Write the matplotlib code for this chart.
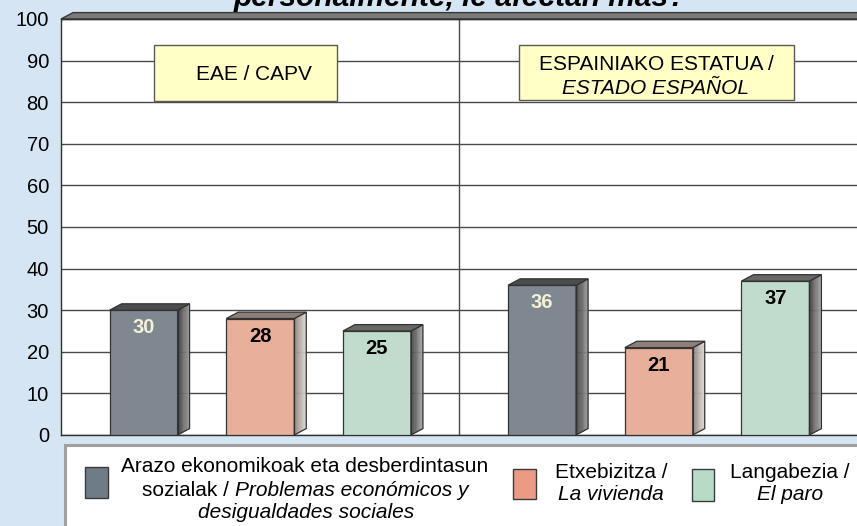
import matplotlib
matplotlib.use("Agg")
import matplotlib.pyplot as plt
import matplotlib.colors as mcolors
from matplotlib.patches import Polygon, Rectangle
import numpy as np

plt.rcParams["font.family"] = ["Liberation Sans", "DejaVu Sans"]

# --------------------- data ---------------------
groups = ["EAE / CAPV", "ESPAINIAKO ESTATUA / ESTADO ESPAÑOL"]
economicos = [30, 36]
vivienda = [28, 21]
paro = [25, 37]
yticks = list(range(0, 101, 10))

# --------------------- figure helpers ---------------------
W, H = 857, 526
fig = plt.figure(figsize=(W / 100, H / 100), dpi=100)
fig.patch.set_facecolor("#d5e5f3")


def fx(px):
    return px / W


def fy(py):
    return 1 - py / H


def pt(px):
    return px * 72 / 100


ax = fig.add_axes([fx(61), fy(435), (858 - 61) / W, (435 - 19) / H])
ax.set_facecolor("white")
ax.set_xlim(-0.5, len(groups) - 0.5)
ax.set_ylim(0, 100)
ax.set_yticks(yticks)
ax.set_xticks([])
ax.tick_params(axis="y", length=0, pad=pt(12), labelsize=14.5)
ax.yaxis.grid(True, color="#4a4a4a", lw=1.0)
ax.set_axisbelow(True)
ax.axvline(0.5, color="#4a4a4a", lw=1.0, zorder=1)
for s in ["left", "bottom", "top"]:
    ax.spines[s].set_color("#303030")
    ax.spines[s].set_linewidth(1.0)
ax.spines["right"].set_visible(False)

# 3D depth of the bars
dx = 12 / 398.5
dy = 6.4 / 4.16
bw = 0.1706
offsets = [-0.2928, 0.0, 0.2928]

series = [
    (economicos, "#7f8890", ("#3c3c3c", "#9a9a9a"), "#4c4c4c", "#f3f1d6"),
    (vivienda, "#e8b09b", ("#8a807b", "#e2dad4"), "#8c7f79", "black"),
    (paro, "#c1dccd", ("#3f3f3f", "#a8a8a8"), "#676767", "black"),
]


def blend(c0, c1, t):
    a = np.array(mcolors.to_rgb(c0))
    b = np.array(mcolors.to_rgb(c1))
    return tuple(a + (b - a) * t)


x = np.arange(len(groups))
for i, (vals, col, side, topc, lblc) in enumerate(series):
    xs = x + offsets[i]
    ax.bar(xs, vals, width=bw, color=col, edgecolor="#333333", lw=0.9, zorder=3)
    for xc, v in zip(xs, vals):
        x0 = xc - bw / 2
        x1 = xc + bw / 2
        n = 14
        for k in range(n):
            t0, t1 = k / n, (k + 1) / n
            c = blend(side[0], side[1], (k + 0.5) / n)
            ax.add_patch(Polygon([(x1 + dx * t0, dy * t0), (x1 + dx * t1, dy * t1),
                                  (x1 + dx * t1, v + dy * t1), (x1 + dx * t0, v + dy * t0)],
                                 closed=True, fc=c, ec=c, lw=0.3, zorder=2.9))
        ax.add_patch(Polygon([(x1, 0), (x1 + dx, dy), (x1 + dx, v + dy), (x1, v)],
                             closed=True, fill=False, ec="#333333", lw=0.9, zorder=3.1))
        ax.add_patch(Polygon([(x0, v), (x0 + dx, v + dy), (x1 + dx, v + dy), (x1, v)],
                             closed=True, fc=topc, ec="#333333", lw=0.9, zorder=3.1))
        ax.annotate(str(v), xy=(xc, v), xytext=(0, -pt(17.5)), textcoords="offset points",
                    ha="center", va="center", fontsize=14.5, fontweight="bold",
                    color=lblc, zorder=4)

# ceiling of the 3D box
ax.add_patch(Polygon([(-0.5, 100), (-0.5 + dx, 100 + dy), (1.5 + dx, 100 + dy), (1.5, 100)],
                     closed=True, fc="#7a7a7a", ec="#383838", lw=1.0, clip_on=False, zorder=2))

# title (last line, clipped at top as in the source)
fig.text(fx(460), fy(6), "personalmente, le afectan más?", ha="center", va="baseline",
         fontsize=21.5, fontweight="bold", fontstyle="italic")

# group boxes
fig.patches.append(Rectangle((fx(154), fy(101)), fx(337) - fx(154), fy(45) - fy(101),
                             transform=fig.transFigure, fc="#ffffc6", ec="#5a5a5a", lw=1.0, zorder=2))
fig.text(fx(254), fy(75), "EAE / CAPV", ha="center", va="center", fontsize=15, zorder=3)
fig.patches.append(Rectangle((fx(519), fy(100)), fx(794) - fx(519), fy(45) - fy(100),
                             transform=fig.transFigure, fc="#ffffc6", ec="#5a5a5a", lw=1.0, zorder=2))
fig.text(fx(656), fy(65), "ESPAINIAKO ESTATUA /", ha="center", va="center", fontsize=15, zorder=3)
fig.text(fx(656), fy(88), "ESTADO ESPAÑOL", ha="center", va="center", fontsize=15,
         fontstyle="italic", zorder=3)

# legend
fig.patches.append(Rectangle((fx(64.5), fy(540)), 1.0, fy(445) - fy(540),
                             transform=fig.transFigure, fc="white", ec="#a0a0a0", lw=2.2, zorder=1))
swatches = [("#6f7b85", 85, 107.7, 467.3, 497.7),
            ("#ec9a84", 513.3, 535.7, 469.3, 499.3),
            ("#b6dcc8", 691.7, 714.3, 469.3, 500.7)]
for col, l, r, t, b in swatches:
    fig.patches.append(Rectangle((fx(l), fy(b)), fx(r) - fx(l), fy(t) - fy(b),
                                 transform=fig.transFigure, fc=col, ec="#3a3a3a", lw=1.0, zorder=2))

renderer = fig.canvas.get_renderer()
LSIZE = 15


def mixed_line(xc, yc, parts):
    arts = []
    widths = []
    for txt, style in parts:
        a = fig.text(0, fy(yc), txt, fontsize=LSIZE, fontstyle=style, va="center", ha="left", zorder=3)
        arts.append(a)
        widths.append(a.get_window_extent(renderer).width)
    gap = 0.278 * LSIZE * 100 / 72
    total = sum(widths) + gap * (len(parts) - 1)
    cur = xc - total / 2
    for a, w in zip(arts, widths):
        a.set_x(fx(cur))
        cur += w + gap


mixed_line(305, 467, [("Arazo ekonomikoak eta desberdintasun", "normal")])
mixed_line(305, 490, [("sozialak /", "normal"), ("Problemas económicos y", "italic")])
mixed_line(306, 512, [("desigualdades sociales", "italic")])
mixed_line(611, 473, [("Etxebizitza /", "normal")])
mixed_line(611, 495, [("La vivienda", "italic")])
mixed_line(790, 473, [("Langabezia /", "normal")])
mixed_line(790, 495, [("El paro", "italic")])

fig.savefig("out.png", dpi=100, facecolor=fig.get_facecolor())
